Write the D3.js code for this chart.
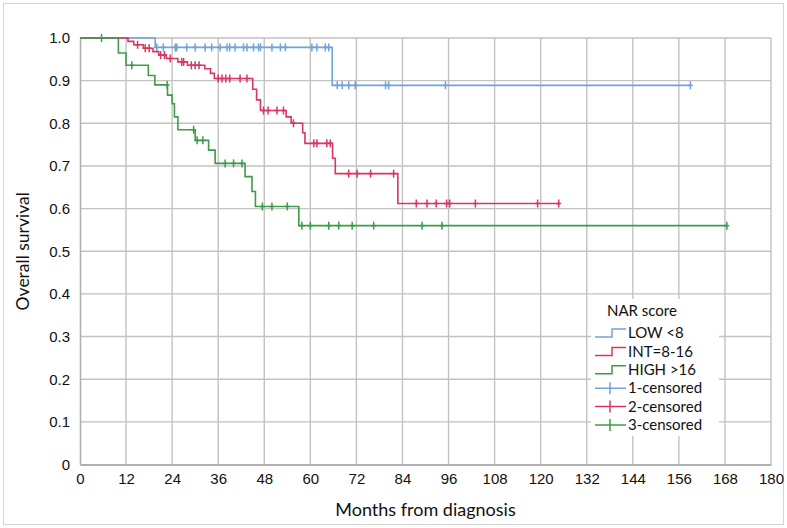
<!DOCTYPE html>
<html>
<head>
<meta charset="utf-8">
<script src="https://cdn.jsdelivr.net/npm/d3@7"></script>
<style>
  body { margin: 0; background: #fff; }
  svg { font-family: Lato, "Open Sans", sans-serif; }
</style>
</head>
<body>
<svg id="chart" width="787" height="528"></svg>
<script>
// Kaplan-Meier steps: [month, survival after the drop]
var lowSteps = [[0, 1], [19.6, 0.978], [65.7, 0.889]];
var lowCensored = [20, 21.7, 24.8, 25.2, 27.8, 30, 32.6, 34.3, 36.5, 38.3, 39, 40.4, 42.6, 43.5, 45.2, 46.5,
  47, 50, 52.2, 53.5, 60.4, 61.7, 63.9, 64.8, 67, 68.3, 70, 71.7, 79.6, 80.4, 95.2, 159];
var lowEnd = 159;

var intSteps = [[0, 1], [12.5, 0.992], [14, 0.984], [16.5, 0.976], [19, 0.968], [20.5, 0.96], [22.5, 0.952],
  [25.5, 0.944], [28, 0.936], [32.5, 0.928], [34, 0.917], [35, 0.905], [45, 0.88], [46, 0.855], [47, 0.83],
  [53.7, 0.815], [55, 0.8], [58, 0.778], [58.6, 0.753], [65.8, 0.718], [66.5, 0.682], [82.8, 0.612]];
var intCensored = [15, 17, 18, 21, 22, 23.5, 26.5, 27, 29, 30, 31, 36, 37, 38, 39, 41.7, 43.5,
  47.8, 49, 51.3, 53, 55.6, 60.9, 61.7, 64.3, 65.2, 70, 72.2, 75.7, 81.7,
  87.6, 90.4, 92.8, 95.5, 96.3, 103, 119.2, 124.7];
var intEnd = 125;

var highSteps = [[0, 1], [10, 0.965], [12, 0.936], [17.8, 0.912], [19.5, 0.89], [22.8, 0.866], [24, 0.846],
  [24.6, 0.815], [25.5, 0.785], [30, 0.76], [33.5, 0.737], [35.2, 0.706], [43, 0.675], [44.8, 0.64],
  [45.7, 0.605], [57, 0.56]];
var highCensored = [5.6, 13.5, 22.7, 29.6, 30.5, 32, 37.8, 40, 42.2, 47.5, 50, 54,
  57.8, 60, 64.8, 67.4, 70.9, 76.5, 89.1, 94.3, 168.5];
var highEnd = 168.5;

var xTicks = d3.range(0, 181, 12);
var yTicks = [0, 0.1, 0.2, 0.3, 0.4, 0.5, 0.6, 0.7, 0.8, 0.9, 1.0];
var legendLabels = ["LOW <8", "INT=8-16", "HIGH >16", "1-censored", "2-censored", "3-censored"];

var colors = { low: "#72a2da", int: "#d6385f", high: "#3f9a4c" };

var svg = d3.select("#chart");

// outer frame
svg.append("rect")
  .attr("x", 3.5).attr("y", 3.5)
  .attr("width", 780).attr("height", 521)
  .attr("fill", "none")
  .attr("stroke", "#d4d4d4");

var x = d3.scaleLinear().domain([0, 180]).range([80, 771]);
var y = d3.scaleLinear().domain([0, 1]).range([464.5, 38]);

// grid
svg.append("g")
  .selectAll("line.v")
  .data(xTicks.slice(1))
  .enter().append("line")
  .attr("x1", function(d) { return x(d); })
  .attr("x2", function(d) { return x(d); })
  .attr("y1", y(0)).attr("y2", y(1))
  .attr("stroke", "#c2c2c2")
  .attr("stroke-width", 1.4);

svg.append("g")
  .selectAll("line.h")
  .data(yTicks.slice(1))
  .enter().append("line")
  .attr("x1", x(0)).attr("x2", x(180))
  .attr("y1", function(d) { return y(d); })
  .attr("y2", function(d) { return y(d); })
  .attr("stroke", "#c2c2c2")
  .attr("stroke-width", 1.4);

// axes
var xAxis = svg.append("g")
  .attr("transform", "translate(0," + y(0) + ")")
  .call(d3.axisBottom(x).tickValues(xTicks).tickSize(0).tickPadding(9).tickFormat(d3.format("d")));
xAxis.select(".domain").attr("stroke", "#b0b0b0").attr("stroke-width", 2.2);
xAxis.selectAll("text").attr("font-size", 15).attr("fill", "#111");

var yAxis = svg.append("g")
  .attr("transform", "translate(" + x(0) + ",0)")
  .call(d3.axisLeft(y).tickValues(yTicks).tickSize(0).tickPadding(10)
    .tickFormat(function(d) { return d === 0 ? "0" : d.toFixed(1); }));
yAxis.select(".domain").attr("stroke", "#b0b0b0").attr("stroke-width", 1.6);
yAxis.selectAll("text").attr("font-size", 15).attr("fill", "#111");

svg.append("text")
  .attr("x", (x(0) + x(180)) / 2)
  .attr("y", 516)
  .attr("text-anchor", "middle")
  .attr("font-size", 18)
  .attr("fill", "#111")
  .text("Months from diagnosis");

svg.append("text")
  .attr("transform", "translate(29," + y(0.5) + ") rotate(-90)")
  .attr("text-anchor", "middle")
  .attr("font-size", 17.5)
  .attr("fill", "#111")
  .text("Overall survival");

// curves
function survAt(steps, t) {
  var s = steps[0][1];
  steps.forEach(function(p) { if (p[0] <= t) s = p[1]; });
  return s;
}

var line = d3.line()
  .x(function(d) { return x(d[0]); })
  .y(function(d) { return y(d[1]); })
  .curve(d3.curveStepAfter);

var groups = [
  { steps: lowSteps, cens: lowCensored, end: lowEnd, color: colors.low },
  { steps: intSteps, cens: intCensored, end: intEnd, color: colors.int },
  { steps: highSteps, cens: highCensored, end: highEnd, color: colors.high }
];

groups.forEach(function(g) {
  var pts = g.steps.concat([[g.end, g.steps[g.steps.length - 1][1]]]);
  svg.append("path")
    .attr("d", line(pts))
    .attr("fill", "none")
    .attr("stroke", g.color)
    .attr("stroke-width", 1.6);

  var marks = svg.append("g")
    .selectAll("g")
    .data(g.cens)
    .enter().append("g")
    .attr("transform", function(d) {
      return "translate(" + x(d) + "," + y(survAt(g.steps, d)) + ")";
    });
  marks.append("line")
    .attr("x1", 0).attr("x2", 0).attr("y1", -4).attr("y2", 4)
    .attr("stroke", g.color).attr("stroke-width", 1.5);
  marks.append("line")
    .attr("x1", -2.5).attr("x2", 2.5).attr("y1", 0).attr("y2", 0)
    .attr("stroke", g.color).attr("stroke-width", 1.5);
});

// legend
var lg = svg.append("g");
lg.append("rect")
  .attr("x", 591).attr("y", 299)
  .attr("width", 128).attr("height", 137)
  .attr("fill", "#fff");

lg.append("text")
  .attr("x", 607).attr("y", 311)
  .attr("dy", "0.35em")
  .attr("font-size", 15)
  .attr("fill", "#111")
  .text("NAR score");

var legendColors = [colors.low, colors.int, colors.high, colors.low, colors.int, colors.high];
var rows = lg.selectAll("g.row")
  .data(legendLabels)
  .enter().append("g")
  .attr("transform", function(d, i) { return "translate(0," + (333 + i * 18.4) + ")"; });

rows.each(function(d, i) {
  var r = d3.select(this);
  var c = legendColors[i];
  if (i < 3) {
    r.append("path")
      .attr("d", "M595,4H612V-4H626")
      .attr("fill", "none").attr("stroke", c).attr("stroke-width", 1.5);
  } else {
    r.append("path")
      .attr("d", "M595,0H626M610,-6V6")
      .attr("fill", "none").attr("stroke", c).attr("stroke-width", 1.5);
  }
  r.append("text")
    .attr("x", 628).attr("dy", "0.35em")
    .attr("font-size", 15)
    .attr("fill", "#111")
    .text(d);
});
</script>
</body>
</html>
